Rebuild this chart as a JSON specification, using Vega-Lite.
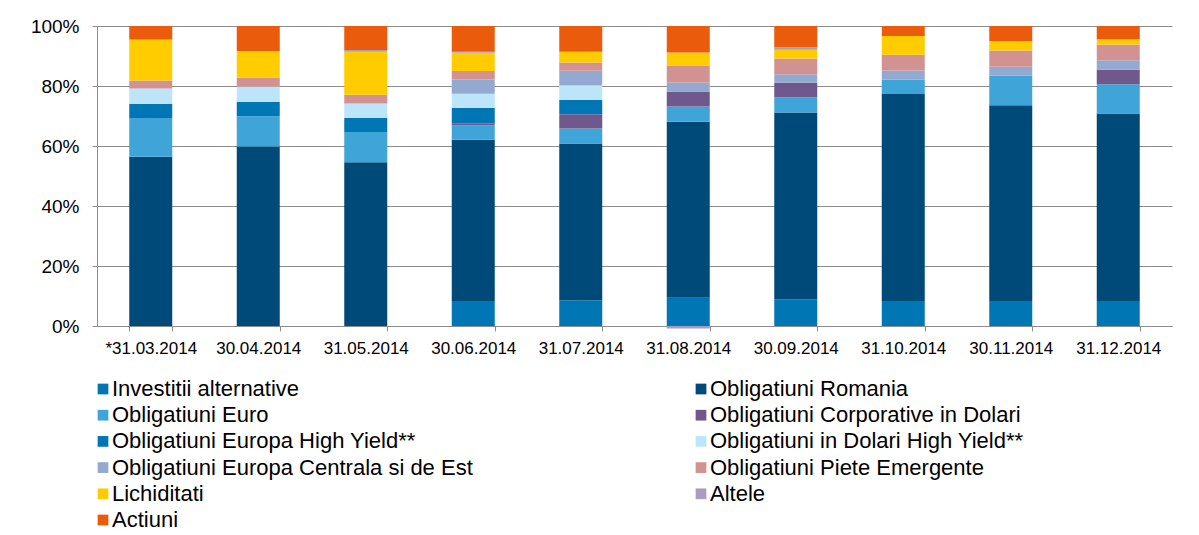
{
  "$schema": "https://vega.github.io/schema/vega-lite/v6.json",
  "width": 1075,
  "height": 300,
  "autosize": {"type": "none"},
  "padding": {"left": 97, "top": 26, "right": 27, "bottom": 209},
  "background": "white",
  "config": {
    "view": {"stroke": null},
    "font": "Liberation Sans"
  },
  "data": {
    "values": [
      {"d": "*31.03.2014", "s": "Investitii alternative", "k": 1, "v": 0},
      {"d": "*31.03.2014", "s": "Obligatiuni Romania", "k": 2, "v": 56.4},
      {"d": "*31.03.2014", "s": "Obligatiuni Euro", "k": 3, "v": 12.9},
      {"d": "*31.03.2014", "s": "Obligatiuni Corporative in Dolari", "k": 4, "v": 0},
      {"d": "*31.03.2014", "s": "Obligatiuni Europa High Yield**", "k": 5, "v": 4.8},
      {"d": "*31.03.2014", "s": "Obligatiuni in Dolari High Yield**", "k": 6, "v": 5.1},
      {"d": "*31.03.2014", "s": "Obligatiuni Europa Centrala si de Est", "k": 7, "v": 0},
      {"d": "*31.03.2014", "s": "Obligatiuni Piete Emergente", "k": 8, "v": 2.6},
      {"d": "*31.03.2014", "s": "Lichiditati", "k": 9, "v": 13.5},
      {"d": "*31.03.2014", "s": "Altele", "k": 10, "v": 0.3},
      {"d": "*31.03.2014", "s": "Actiuni", "k": 11, "v": 4.4},

      {"d": "30.04.2014", "s": "Investitii alternative", "k": 1, "v": 0},
      {"d": "30.04.2014", "s": "Obligatiuni Romania", "k": 2, "v": 59.8},
      {"d": "30.04.2014", "s": "Obligatiuni Euro", "k": 3, "v": 10.1},
      {"d": "30.04.2014", "s": "Obligatiuni Corporative in Dolari", "k": 4, "v": 0},
      {"d": "30.04.2014", "s": "Obligatiuni Europa High Yield**", "k": 5, "v": 4.8},
      {"d": "30.04.2014", "s": "Obligatiuni in Dolari High Yield**", "k": 6, "v": 5.1},
      {"d": "30.04.2014", "s": "Obligatiuni Europa Centrala si de Est", "k": 7, "v": 0},
      {"d": "30.04.2014", "s": "Obligatiuni Piete Emergente", "k": 8, "v": 3.0},
      {"d": "30.04.2014", "s": "Lichiditati", "k": 9, "v": 8.9},
      {"d": "30.04.2014", "s": "Altele", "k": 10, "v": 0},
      {"d": "30.04.2014", "s": "Actiuni", "k": 11, "v": 8.3},

      {"d": "31.05.2014", "s": "Investitii alternative", "k": 1, "v": 0},
      {"d": "31.05.2014", "s": "Obligatiuni Romania", "k": 2, "v": 54.6},
      {"d": "31.05.2014", "s": "Obligatiuni Euro", "k": 3, "v": 10.1},
      {"d": "31.05.2014", "s": "Obligatiuni Corporative in Dolari", "k": 4, "v": 0},
      {"d": "31.05.2014", "s": "Obligatiuni Europa High Yield**", "k": 5, "v": 4.6},
      {"d": "31.05.2014", "s": "Obligatiuni in Dolari High Yield**", "k": 6, "v": 4.9},
      {"d": "31.05.2014", "s": "Obligatiuni Europa Centrala si de Est", "k": 7, "v": 0},
      {"d": "31.05.2014", "s": "Obligatiuni Piete Emergente", "k": 8, "v": 2.9},
      {"d": "31.05.2014", "s": "Lichiditati", "k": 9, "v": 14.3},
      {"d": "31.05.2014", "s": "Altele", "k": 10, "v": 0.6},
      {"d": "31.05.2014", "s": "Actiuni", "k": 11, "v": 8.0},

      {"d": "30.06.2014", "s": "Investitii alternative", "k": 1, "v": 8.3},
      {"d": "30.06.2014", "s": "Obligatiuni Romania", "k": 2, "v": 53.8},
      {"d": "30.06.2014", "s": "Obligatiuni Euro", "k": 3, "v": 4.7},
      {"d": "30.06.2014", "s": "Obligatiuni Corporative in Dolari", "k": 4, "v": 0.8},
      {"d": "30.06.2014", "s": "Obligatiuni Europa High Yield**", "k": 5, "v": 5.1},
      {"d": "30.06.2014", "s": "Obligatiuni in Dolari High Yield**", "k": 6, "v": 4.7},
      {"d": "30.06.2014", "s": "Obligatiuni Europa Centrala si de Est", "k": 7, "v": 4.8},
      {"d": "30.06.2014", "s": "Obligatiuni Piete Emergente", "k": 8, "v": 2.8},
      {"d": "30.06.2014", "s": "Lichiditati", "k": 9, "v": 6.1},
      {"d": "30.06.2014", "s": "Altele", "k": 10, "v": 0.3},
      {"d": "30.06.2014", "s": "Actiuni", "k": 11, "v": 8.6},

      {"d": "31.07.2014", "s": "Investitii alternative", "k": 1, "v": 8.6},
      {"d": "31.07.2014", "s": "Obligatiuni Romania", "k": 2, "v": 52.2},
      {"d": "31.07.2014", "s": "Obligatiuni Euro", "k": 3, "v": 5.0},
      {"d": "31.07.2014", "s": "Obligatiuni Corporative in Dolari", "k": 4, "v": 4.8},
      {"d": "31.07.2014", "s": "Obligatiuni Europa High Yield**", "k": 5, "v": 4.7},
      {"d": "31.07.2014", "s": "Obligatiuni in Dolari High Yield**", "k": 6, "v": 4.9},
      {"d": "31.07.2014", "s": "Obligatiuni Europa Centrala si de Est", "k": 7, "v": 4.9},
      {"d": "31.07.2014", "s": "Obligatiuni Piete Emergente", "k": 8, "v": 2.7},
      {"d": "31.07.2014", "s": "Lichiditati", "k": 9, "v": 3.6},
      {"d": "31.07.2014", "s": "Altele", "k": 10, "v": 0},
      {"d": "31.07.2014", "s": "Actiuni", "k": 11, "v": 8.6},

      {"d": "31.08.2014", "s": "Investitii alternative", "k": 1, "v": 9.4},
      {"d": "31.08.2014", "s": "Obligatiuni Romania", "k": 2, "v": 58.7},
      {"d": "31.08.2014", "s": "Obligatiuni Euro", "k": 3, "v": 5.1},
      {"d": "31.08.2014", "s": "Obligatiuni Corporative in Dolari", "k": 4, "v": 5.0},
      {"d": "31.08.2014", "s": "Obligatiuni Europa High Yield**", "k": 5, "v": 0},
      {"d": "31.08.2014", "s": "Obligatiuni in Dolari High Yield**", "k": 6, "v": 0},
      {"d": "31.08.2014", "s": "Obligatiuni Europa Centrala si de Est", "k": 7, "v": 3.0},
      {"d": "31.08.2014", "s": "Obligatiuni Piete Emergente", "k": 8, "v": 5.6},
      {"d": "31.08.2014", "s": "Lichiditati", "k": 9, "v": 4.4},
      {"d": "31.08.2014", "s": "Altele", "k": 10, "v": -0.8},
      {"d": "31.08.2014", "s": "Actiuni", "k": 11, "v": 8.8},

      {"d": "30.09.2014", "s": "Investitii alternative", "k": 1, "v": 8.9},
      {"d": "30.09.2014", "s": "Obligatiuni Romania", "k": 2, "v": 62.3},
      {"d": "30.09.2014", "s": "Obligatiuni Euro", "k": 3, "v": 5.0},
      {"d": "30.09.2014", "s": "Obligatiuni Corporative in Dolari", "k": 4, "v": 4.9},
      {"d": "30.09.2014", "s": "Obligatiuni Europa High Yield**", "k": 5, "v": 0},
      {"d": "30.09.2014", "s": "Obligatiuni in Dolari High Yield**", "k": 6, "v": 0},
      {"d": "30.09.2014", "s": "Obligatiuni Europa Centrala si de Est", "k": 7, "v": 2.8},
      {"d": "30.09.2014", "s": "Obligatiuni Piete Emergente", "k": 8, "v": 5.3},
      {"d": "30.09.2014", "s": "Lichiditati", "k": 9, "v": 2.9},
      {"d": "30.09.2014", "s": "Altele", "k": 10, "v": 0.8},
      {"d": "30.09.2014", "s": "Actiuni", "k": 11, "v": 7.1},

      {"d": "31.10.2014", "s": "Investitii alternative", "k": 1, "v": 8.3},
      {"d": "31.10.2014", "s": "Obligatiuni Romania", "k": 2, "v": 69.0},
      {"d": "31.10.2014", "s": "Obligatiuni Euro", "k": 3, "v": 4.8},
      {"d": "31.10.2014", "s": "Obligatiuni Corporative in Dolari", "k": 4, "v": 0},
      {"d": "31.10.2014", "s": "Obligatiuni Europa High Yield**", "k": 5, "v": 0},
      {"d": "31.10.2014", "s": "Obligatiuni in Dolari High Yield**", "k": 6, "v": 0},
      {"d": "31.10.2014", "s": "Obligatiuni Europa Centrala si de Est", "k": 7, "v": 3.1},
      {"d": "31.10.2014", "s": "Obligatiuni Piete Emergente", "k": 8, "v": 5.2},
      {"d": "31.10.2014", "s": "Lichiditati", "k": 9, "v": 6.3},
      {"d": "31.10.2014", "s": "Altele", "k": 10, "v": 0},
      {"d": "31.10.2014", "s": "Actiuni", "k": 11, "v": 3.3},

      {"d": "30.11.2014", "s": "Investitii alternative", "k": 1, "v": 8.3},
      {"d": "30.11.2014", "s": "Obligatiuni Romania", "k": 2, "v": 65.3},
      {"d": "30.11.2014", "s": "Obligatiuni Euro", "k": 3, "v": 9.8},
      {"d": "30.11.2014", "s": "Obligatiuni Corporative in Dolari", "k": 4, "v": 0},
      {"d": "30.11.2014", "s": "Obligatiuni Europa High Yield**", "k": 5, "v": 0},
      {"d": "30.11.2014", "s": "Obligatiuni in Dolari High Yield**", "k": 6, "v": 0},
      {"d": "30.11.2014", "s": "Obligatiuni Europa Centrala si de Est", "k": 7, "v": 3.0},
      {"d": "30.11.2014", "s": "Obligatiuni Piete Emergente", "k": 8, "v": 5.4},
      {"d": "30.11.2014", "s": "Lichiditati", "k": 9, "v": 3.2},
      {"d": "30.11.2014", "s": "Altele", "k": 10, "v": 0},
      {"d": "30.11.2014", "s": "Actiuni", "k": 11, "v": 5.0},

      {"d": "31.12.2014", "s": "Investitii alternative", "k": 1, "v": 8.3},
      {"d": "31.12.2014", "s": "Obligatiuni Romania", "k": 2, "v": 62.5},
      {"d": "31.12.2014", "s": "Obligatiuni Euro", "k": 3, "v": 9.8},
      {"d": "31.12.2014", "s": "Obligatiuni Corporative in Dolari", "k": 4, "v": 4.8},
      {"d": "31.12.2014", "s": "Obligatiuni Europa High Yield**", "k": 5, "v": 0},
      {"d": "31.12.2014", "s": "Obligatiuni in Dolari High Yield**", "k": 6, "v": 0},
      {"d": "31.12.2014", "s": "Obligatiuni Europa Centrala si de Est", "k": 7, "v": 3.2},
      {"d": "31.12.2014", "s": "Obligatiuni Piete Emergente", "k": 8, "v": 5.2},
      {"d": "31.12.2014", "s": "Lichiditati", "k": 9, "v": 1.8},
      {"d": "31.12.2014", "s": "Altele", "k": 10, "v": 0},
      {"d": "31.12.2014", "s": "Actiuni", "k": 11, "v": 4.4}
    ]
  },
  "mark": {"type": "bar"},
  "encoding": {
    "x": {
      "field": "d",
      "type": "nominal",
      "sort": null,
      "title": null,
      "scale": {"paddingInner": 0.6, "paddingOuter": 0.3},
      "axis": {
        "labelAngle": 0,
        "tickBand": "extent",
        "tickSize": 5,
        "tickColor": "#8c8c8c",
        "domainColor": "#8c8c8c",
        "labelFont": "Liberation Sans",
        "labelFontSize": 17,
        "labelColor": "#000000",
        "labelPadding": 9
      }
    },
    "y": {
      "field": "v",
      "type": "quantitative",
      "stack": "zero",
      "title": null,
      "scale": {"domain": [0, 100], "nice": false},
      "axis": {
        "values": [0, 20, 40, 60, 80, 100],
        "labelExpr": "datum.value + '%'",
        "grid": true,
        "gridColor": "#8c8c8c",
        "gridWidth": 1,
        "tickSize": 5,
        "tickColor": "#8c8c8c",
        "domainColor": "#8c8c8c",
        "labelFont": "Liberation Sans",
        "labelFontSize": 19,
        "labelColor": "#000000",
        "labelPadding": 13
      }
    },
    "color": {
      "field": "s",
      "type": "nominal",
      "sort": [
        "Investitii alternative",
        "Obligatiuni Romania",
        "Obligatiuni Euro",
        "Obligatiuni Corporative in Dolari",
        "Obligatiuni Europa High Yield**",
        "Obligatiuni in Dolari High Yield**",
        "Obligatiuni Europa Centrala si de Est",
        "Obligatiuni Piete Emergente",
        "Lichiditati",
        "Altele",
        "Actiuni"
      ],
      "scale": {
        "domain": [
          "Investitii alternative",
          "Obligatiuni Romania",
          "Obligatiuni Euro",
          "Obligatiuni Corporative in Dolari",
          "Obligatiuni Europa High Yield**",
          "Obligatiuni in Dolari High Yield**",
          "Obligatiuni Europa Centrala si de Est",
          "Obligatiuni Piete Emergente",
          "Lichiditati",
          "Altele",
          "Actiuni"
        ],
        "range": ["#0077b4", "#004a7a", "#3fa4d8", "#70588c", "#0077b4", "#bde5f9", "#93a9d0", "#d19291", "#ffcc00", "#a89cc2", "#ea5b0c"]
      },
      "legend": {
        "title": null,
        "orient": "none",
        "direction": "horizontal",
        "legendX": -5,
        "legendY": 352,
        "columns": 2,
        "columnPadding": 217,
        "rowPadding": 4.2,
        "symbolType": "square",
        "symbolSize": 115,
        "symbolStrokeWidth": 0,
        "labelFont": "Liberation Sans",
        "labelFontSize": 22,
        "labelColor": "#000000",
        "labelLimit": 800,
        "labelOffset": -2
      }
    },
    "order": {"field": "k", "type": "quantitative"}
  }
}
